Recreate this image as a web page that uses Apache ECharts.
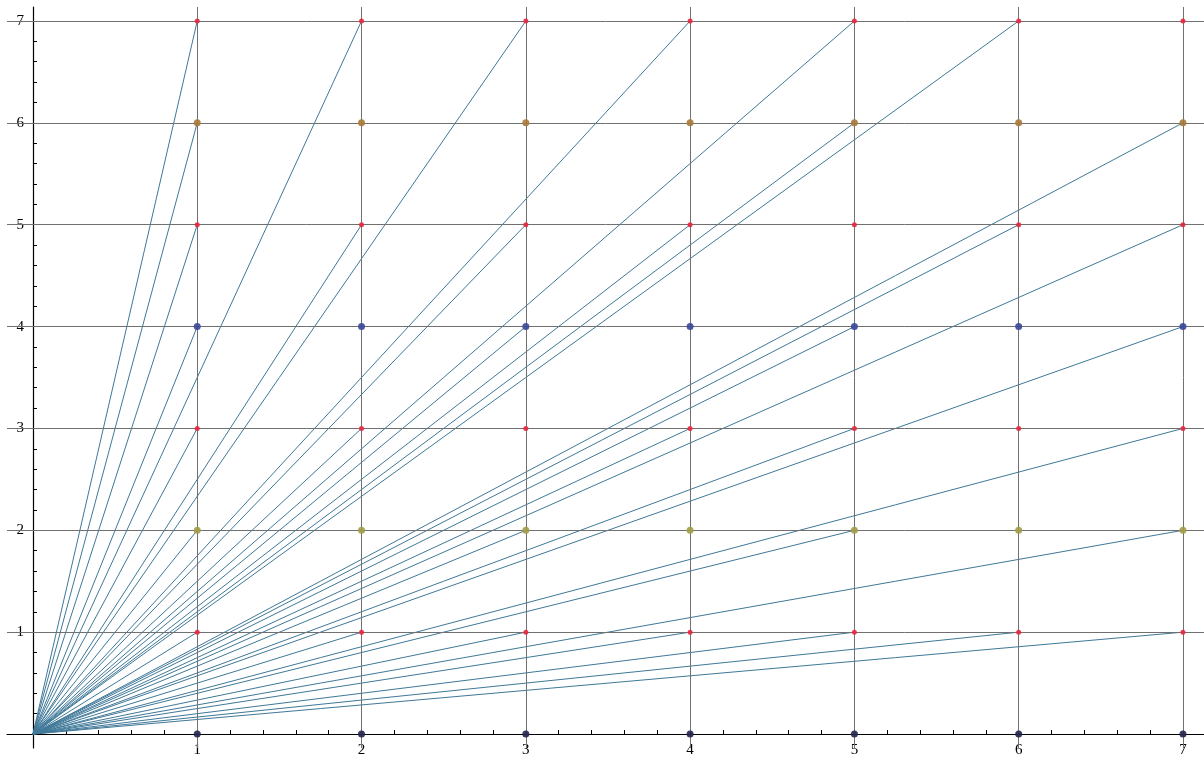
<!DOCTYPE html>
<html><head><meta charset="utf-8">
<script src="https://cdn.jsdelivr.net/npm/echarts@6/dist/echarts.min.js"></script>
<style>html,body{margin:0;padding:0;background:#fff}#c{width:1204px;height:761px}</style>
</head><body><div id="c"></div>
<script>
// ---- data ----
const xTickLabels = [1, 2, 3, 4, 5, 6, 7];
const yTickLabels = [1, 2, 3, 4, 5, 6, 7];
const xMinorTicks = [0.2,0.4,0.6,0.8,1.2,1.4,1.6,1.8,2.2,2.4,2.6,2.8,3.2,3.4,3.6,3.8,4.2,4.4,4.6,4.8,5.2,5.4,5.6,5.8,6.2,6.4,6.6,6.8];
const yMinorTicks = [0.2,0.4,0.6,0.8,1.2,1.4,1.6,1.8,2.2,2.4,2.6,2.8,3.2,3.4,3.6,3.8,4.2,4.4,4.6,4.8,5.2,5.4,5.6,5.8,6.2,6.4,6.6,6.8];
const gridXValues = [1, 2, 3, 4, 5, 6, 7];
const gridYValues = [1, 2, 3, 4, 5, 6, 7];
const pointColumns = [1, 2, 3, 4, 5, 6, 7];
const pointRows = [0, 1, 2, 3, 4, 5, 6, 7];
const rayOrigin = [0, 0];
const rayEnds = [
  [1,1],[1,2],[1,3],[1,4],[1,5],[1,6],[1,7],
  [2,1],[2,3],[2,5],[2,7],
  [3,1],[3,2],[3,4],[3,5],[3,7],
  [4,1],[4,3],[4,5],[4,7],
  [5,1],[5,2],[5,3],[5,4],[5,6],[5,7],
  [6,1],[6,5],[6,7],
  [7,1],[7,2],[7,3],[7,4],[7,5],[7,6]
];

// ---- layout & styles ----
const W = 1204, H = 761;
const G = { left: 7, right: 0, top: 7, bottom: 13 };
const X_MIN = -0.158, X_MAX = 7.128, Y_MIN = -0.137, Y_MAX = 7.137;
const gridW = W - G.left - G.right, gridH = H - G.top - G.bottom;
// place axes at the zero of the other axis (pixel offsets inward from the grid edges)
const xAxisOffset = -((0 - Y_MIN) / (Y_MAX - Y_MIN)) * gridH;
const yAxisOffset = -((0 - X_MIN) / (X_MAX - X_MIN)) * gridW;

const rowStyle = {
  0: { color: '#22234a', size: 7 },
  1: { color: '#e8263f', size: 5 },
  2: { color: '#a29c46', size: 7 },
  3: { color: '#e8263f', size: 5 },
  4: { color: '#3b479a', size: 7 },
  5: { color: '#e8263f', size: 5 },
  6: { color: '#a87a3a', size: 7 },
  7: { color: '#e8263f', size: 5 }
};
const fontFam = '"Liberation Serif", "DejaVu Serif", serif';

const pointSeries = pointRows.map(r => ({
  type: 'scatter',
  z: 5,
  symbol: 'circle',
  symbolSize: rowStyle[r].size,
  itemStyle: { color: rowStyle[r].color, opacity: 0.9 },
  silent: true,
  data: pointColumns.map(c => [c, r])
}));

const chart = echarts.init(document.getElementById('c'), null, { renderer: 'canvas' });
chart.setOption({
  animation: false,
  backgroundColor: '#ffffff',
  grid: Object.assign({ containLabel: false, outerBoundsMode: 'none' }, G),
  xAxis: [{
    type: 'value', min: X_MIN, max: X_MAX, position: 'bottom', offset: xAxisOffset,
    axisLine: { show: true, onZero: false, lineStyle: { color: '#000', width: 1.2 } },
    axisTick: { show: true, inside: true, length: 4, customValues: xMinorTicks, lineStyle: { color: '#000', width: 1 } },
    axisLabel: { show: true, customValues: xTickLabels, margin: 9, color: '#000', fontSize: 15, fontFamily: fontFam },
    splitLine: { show: false }
  }, {
    type: 'value', min: X_MIN, max: X_MAX, position: 'bottom', offset: xAxisOffset,
    axisLine: { show: false, onZero: false },
    axisTick: { show: true, inside: true, length: 7, customValues: xTickLabels, lineStyle: { color: '#000', width: 1 } },
    axisLabel: { show: false },
    splitLine: { show: false }
  }],
  yAxis: [{
    type: 'value', min: Y_MIN, max: Y_MAX, position: 'left', offset: yAxisOffset,
    axisLine: { show: true, onZero: false, lineStyle: { color: '#000', width: 1.2 } },
    axisTick: { show: true, inside: true, length: 4, customValues: yMinorTicks, lineStyle: { color: '#000', width: 1 } },
    axisLabel: { show: true, customValues: yTickLabels, margin: 9, color: '#000', fontSize: 15, fontFamily: fontFam },
    splitLine: { show: false }
  }, {
    type: 'value', min: Y_MIN, max: Y_MAX, position: 'left', offset: yAxisOffset,
    axisLine: { show: false, onZero: false },
    axisTick: { show: true, inside: true, length: 7, customValues: yTickLabels, lineStyle: { color: '#000', width: 1 } },
    axisLabel: { show: false },
    splitLine: { show: false }
  }],
  series: [{
    type: 'scatter', data: [], z: 1, silent: true,
    markLine: {
      silent: true, symbol: 'none', animation: false,
      label: { show: false },
      lineStyle: { color: '#707070', width: 1, type: 'solid' },
      data: gridXValues.map(v => ({ xAxis: v })).concat(gridYValues.map(v => ({ yAxis: v })))
    }
  }, {
    type: 'lines',
    coordinateSystem: 'cartesian2d',
    z: 3,
    silent: true,
    lineStyle: { color: '#3f7898', width: 1, opacity: 1 },
    data: rayEnds.map(e => ({ coords: [rayOrigin, e] }))
  }].concat(pointSeries)
});
</script>
</body></html>
